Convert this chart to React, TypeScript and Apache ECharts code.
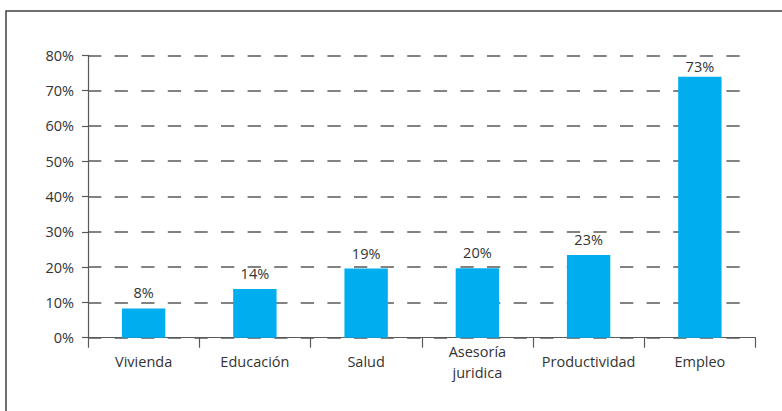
import React, { useEffect, useRef } from "react";
import * as echarts from "echarts";

const categories = ["Vivienda", "Educación", "Salud", "Asesoría\njuridica", "Productividad", "Empleo"];
const values = [8.3, 13.8, 19.6, 19.7, 23.4, 73.9];
const valueLabels = ["8%", "14%", "19%", "20%", "23%", "73%"];
const yTicks = [0, 10, 20, 30, 40, 50, 60, 70, 80];

const FONT = "'Open Sans', sans-serif";
const TEXT = "#333333";
const AXIS = "#595959";
const FS = 14.5;

export default function App() {
  const ref = useRef<HTMLDivElement>(null);
  useEffect(() => {
    if (!ref.current) return;
    const chart = echarts.init(ref.current, null, { renderer: "svg" });
    const yMin = yTicks[0];
    const yMax = yTicks[yTicks.length - 1];
    const yInt = yTicks[1] - yTicks[0];
    const barData = values.map((v) => ({
      value: v,
      label: { distance: v > 60 ? 3 : 8 },
    }));
    chart.setOption({
      animation: false,
      backgroundColor: "#ffffff",
      graphic: [
        {
          type: "rect",
          shape: { x: 6, y: 11, width: 820, height: 440 },
          style: { fill: "none", stroke: "#404040", lineWidth: 1.5 },
          silent: true,
          z: 100,
        },
      ],
      grid: [
        { left: 88, right: 26.5, top: 55.3, bottom: 73.3 },
        { left: 88, right: 41, top: 55.3, bottom: 73.3 },
      ],
      xAxis: [
        {
          type: "category",
          gridIndex: 0,
          data: categories,
          axisLine: { show: true, lineStyle: { color: AXIS, width: 1.2 } },
          axisTick: { show: true, length: 10, alignWithLabel: false, lineStyle: { color: AXIS, width: 1.2 } },
          axisLabel: {
            color: TEXT,
            fontFamily: FONT,
            fontSize: FS,
            margin: 24,
            verticalAlign: "middle",
            lineHeight: 21,
            interval: 0,
          },
          splitLine: { show: false },
        },
        {
          type: "value",
          gridIndex: 1,
          show: false,
          min: 0,
          max: 1,
        },
      ],
      yAxis: [
        {
          type: "value",
          gridIndex: 0,
          min: yMin,
          max: yMax,
          interval: yInt,
          axisLine: { show: true, lineStyle: { color: AXIS, width: 1.2 } },
          axisTick: { show: true, length: 6, lineStyle: { color: AXIS, width: 1.2 } },
          axisLabel: {
            color: TEXT,
            fontFamily: FONT,
            fontSize: FS,
            margin: 14,
            formatter: (v: number) => v + "%",
          },
          splitLine: { show: false },
        },
        {
          type: "value",
          gridIndex: 1,
          min: yMin,
          max: yMax,
          interval: yInt,
          axisLine: { show: false },
          axisTick: { show: false },
          axisLabel: { show: false },
          splitLine: {
            show: true,
            lineStyle: { color: AXIS, width: 1.5, type: [13.3, 13.3] },
          },
        },
      ],
      series: [
        {
          type: "bar",
          xAxisIndex: 0,
          yAxisIndex: 0,
          data: barData,
          barWidth: "39%",
          itemStyle: { color: "#00AEEF" },
          z: 5,
          label: {
            show: true,
            position: "top",
            distance: 8,
            color: TEXT,
            fontFamily: FONT,
            fontSize: FS,
            formatter: (p: any) => valueLabels[p.dataIndex],
          },
        },
      ],
    });
    return () => chart.dispose();
  }, []);
  return (
    <div
      ref={ref}
      style={{ position: "fixed", left: 0, top: 0, width: 782, height: 411, background: "#fff" }}
    />
  );
}
